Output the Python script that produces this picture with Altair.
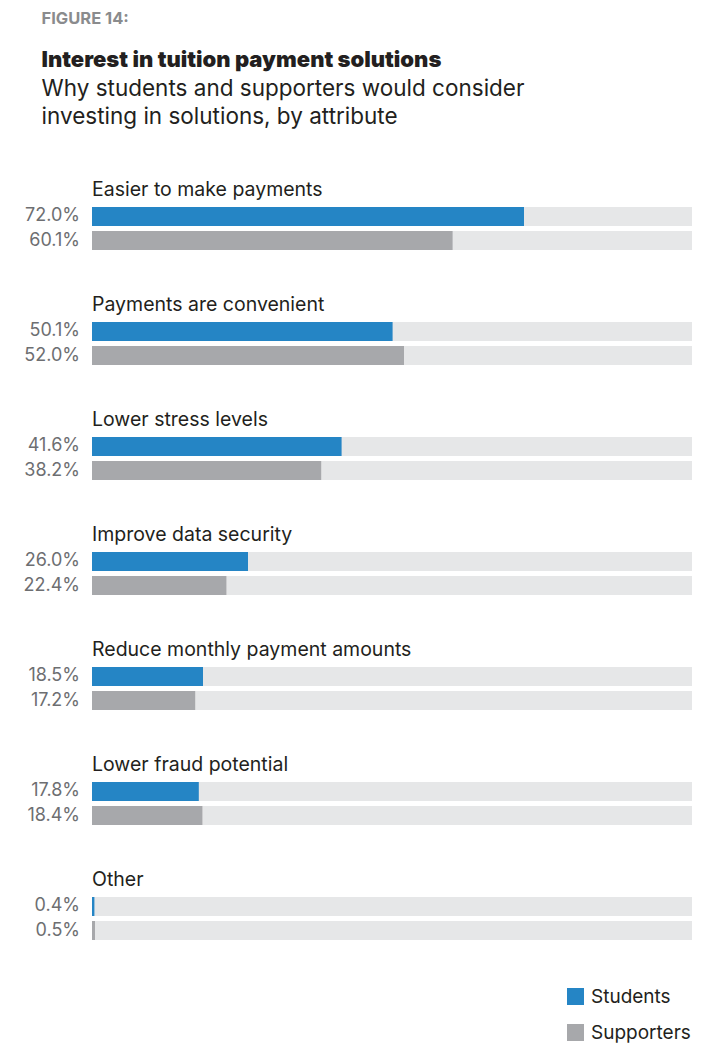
import altair as alt
import pandas as pd

categories = [
    "Easier to make payments",
    "Payments are convenient",
    "Lower stress levels",
    "Improve data security",
    "Reduce monthly payment amounts",
    "Lower fraud potential",
    "Other",
]
students = [72.0, 50.1, 41.6, 26.0, 18.5, 17.8, 0.4]
supporters = [60.1, 52.0, 38.2, 22.4, 17.2, 18.4, 0.5]
series = ["Students", "Supporters"]
colors = ["#2585c5", "#a7a8ab"]

rows = []
for c, s, p in zip(categories, students, supporters):
    rows.append({"attribute": c, "group": "Students", "value": s, "full": 100})
    rows.append({"attribute": c, "group": "Supporters", "value": p, "full": 100})
df = pd.DataFrame(rows)

FONT = "Inter"
xscale = alt.Scale(domain=[0, 100], nice=False, zero=True)
y = alt.Y("group:N", sort=series, axis=None,
          scale=alt.Scale(domain=series, paddingInner=0.21, paddingOuter=0))

track = alt.Chart().mark_bar(color="#e6e7e8").encode(
    x=alt.X("full:Q", scale=xscale, axis=None), y=y)
bars = alt.Chart().mark_bar().encode(
    x=alt.X("value:Q", scale=xscale, axis=None), y=y,
    color=alt.Color("group:N", scale=alt.Scale(domain=series, range=colors),
                    legend=alt.Legend(title=None, orient="none", legendX=474, legendY=780,
                                      symbolType="square", symbolSize=289,
                                      symbolStrokeWidth=0, labelFontSize=19,
                                      labelFont=FONT, labelColor="#231f20",
                                      rowPadding=16, labelOffset=6)))
labels = alt.Chart().transform_calculate(
    lbl="format(datum.value, '.1f') + '%'"
).mark_text(align="right", dx=-12, fontSize=18, font=FONT, color="#6d6e71").encode(
    x=alt.datum(0), y=y, text="lbl:N")

layer = alt.layer(track, bars, labels, data=df).properties(width=600, height=43)

facet = layer.facet(
    row=alt.Row("attribute:N", sort=categories,
                header=alt.Header(title=None, labelOrient="top", labelAngle=0,
                                  labelAlign="left", labelAnchor="start",
                                  labelFontSize=19.5, labelFont=FONT,
                                  labelColor="#231f20", labelPadding=-12)),
    spacing=44,
    title=alt.Title("Interest in tuition payment solutions",
                    subtitle=["Why students and supporters would consider",
                              "investing in solutions, by attribute"],
                    anchor="start", font=FONT, fontSize=22, fontWeight=900,
                    color="#231f20", subtitleFont=FONT, subtitleFontSize=22.5,
                    subtitleColor="#231f20", subtitleLineHeight=28,
                    subtitlePadding=6, offset=50, dx=18),
)

chart = alt.vconcat(
    facet,
    title=alt.Title("FIGURE 14:", anchor="start", font=FONT, fontSize=16.5,
                    fontWeight="bold", color="#8a8b8d", offset=22, dx=18),
    padding={"left": 15, "top": 2, "right": 5, "bottom": 5},
).configure_view(stroke=None)

chart.save("out.html", embed_options={"renderer": "svg", "actions": False})
